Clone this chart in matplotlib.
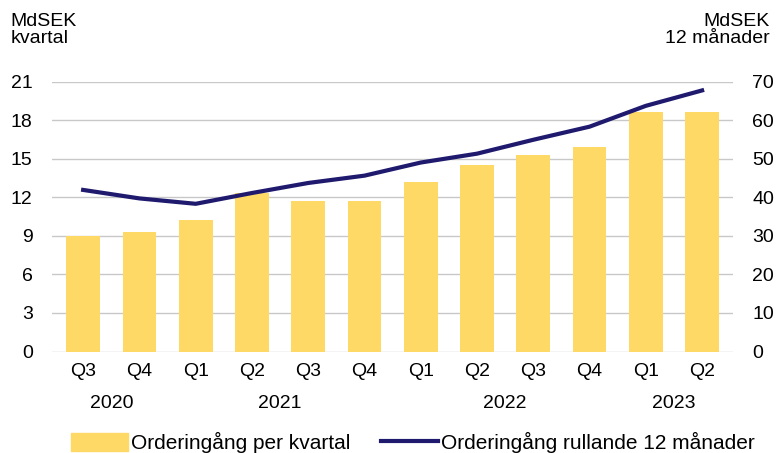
import numpy as np
import matplotlib.pyplot as plt
from matplotlib.patches import Patch
from matplotlib.lines import Line2D

plt.rcParams['font.family'] = ['Liberation Sans', 'DejaVu Sans']

# Data
quarters = ['Q3', 'Q4', 'Q1', 'Q2', 'Q3', 'Q4', 'Q1', 'Q2', 'Q3', 'Q4', 'Q1', 'Q2']
years = ['2020', '2021', '2022', '2023']
year_pos = [0.5, 3.5, 7.5, 10.5]
per_quarter = [9.0, 9.3, 10.2, 12.3, 11.7, 11.7, 13.2, 14.5, 15.3, 15.9, 18.6, 18.6]
rolling_12m = [41.9, 39.7, 38.3, 41.1, 43.7, 45.6, 49.0, 51.3, 54.9, 58.3, 63.7, 67.7]

bar_color = '#FFD966'
line_color = '#1F1A6E'

fig = plt.figure(figsize=(7.79, 4.53), dpi=100)
ax = fig.add_axes([0.067, 0.224, 0.874, 0.596])
ax2 = ax.twinx()

x = np.arange(len(quarters))
ax.bar(x, per_quarter, width=0.6, color=bar_color, zorder=2)
ax2.plot(x, rolling_12m, color=line_color, lw=3, zorder=3)

ax.set_ylim(0, 21)
ax.set_yticks(range(0, 22, 3))
ax2.set_ylim(0, 70)
ax2.set_yticks(range(0, 71, 10))
ax.set_xlim(-0.55, len(quarters) - 0.45)

ax.grid(axis='y', color='#C8C8C8', lw=1, zorder=0)
ax.set_axisbelow(True)
for a in (ax, ax2):
    for s in a.spines.values():
        s.set_visible(False)
    a.tick_params(length=0, labelsize=14)
ax.tick_params(axis='y', pad=14)
ax2.tick_params(axis='y', pad=14)

ax.set_xticks(x)
ax.set_xticklabels(quarters)
ax.tick_params(axis='x', pad=8)

for yr, p in zip(years, year_pos):
    ax.text(p, -0.16, yr, transform=ax.get_xaxis_transform(), ha='center', va='top', fontsize=14)

fig.text(0.013, 0.972, 'MdSEK\nkvartal', ha='left', va='top', fontsize=14, linespacing=1.0)
fig.text(0.988, 0.972, 'MdSEK\n12 månader', ha='right', va='top', fontsize=14, linespacing=1.0)

handles = [Patch(color=bar_color, label='Orderingång per kvartal'),
           Line2D([], [], color=line_color, lw=3, label='Orderingång rullande 12 månader')]
fig.legend(handles=handles, loc='lower center', bbox_to_anchor=(0.53, -0.042), ncol=2, frameon=False,
           fontsize=15, handlelength=2.7, handleheight=0.9, handletextpad=0.15, columnspacing=1.5)

fig.savefig('out.png', dpi=100)
